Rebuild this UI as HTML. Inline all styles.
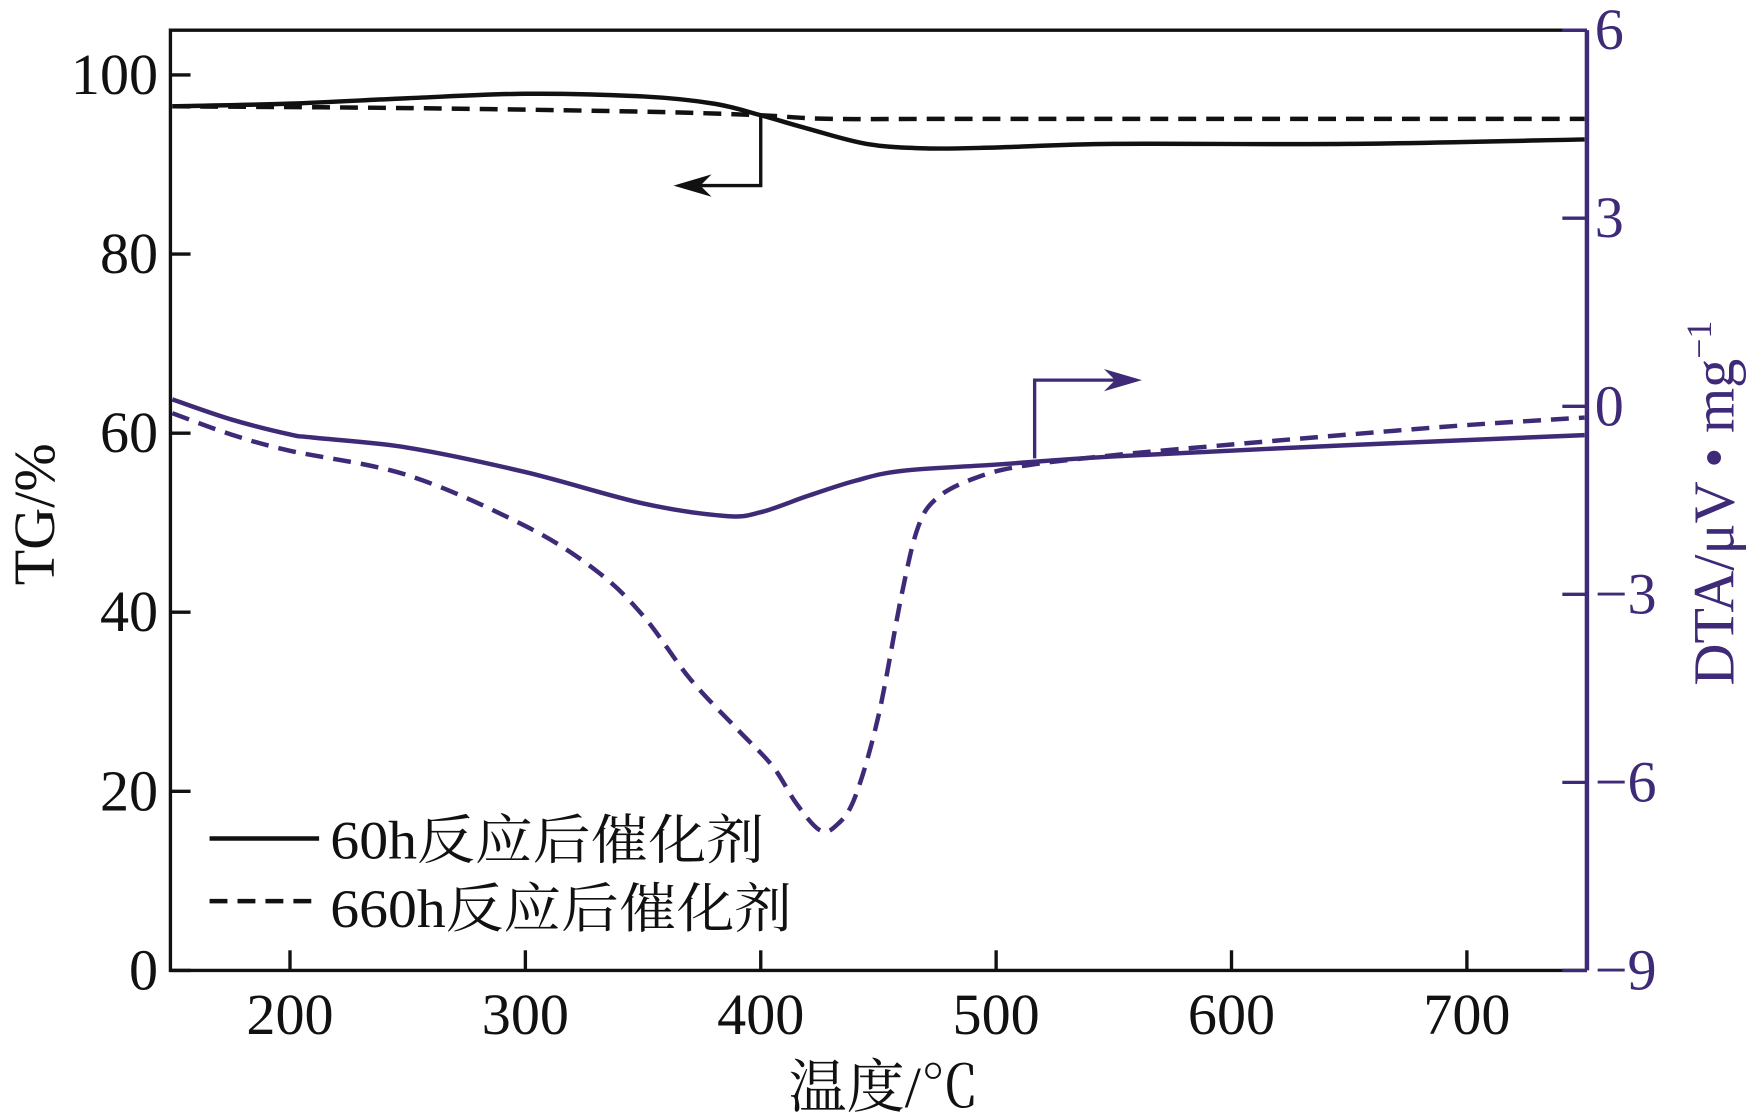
<!DOCTYPE html>
<html><head><meta charset="utf-8">
<style>
html,body{margin:0;padding:0;background:#fff;}
svg{display:block;}
text{font-family:"Liberation Serif","Noto Serif CJK SC",serif;}
</style></head>
<body>
<svg id="chart" width="1754" height="1118" viewBox="0 0 1568 1000" xmlns="http://www.w3.org/2000/svg">
<g id="axes"></g>
<g id="series"></g>
<g id="legend">
  <line x1="187" y1="750" x2="285" y2="750" stroke="#111" stroke-width="4"/>
  <text x="295" y="768" font-size="48" fill="#111" textLength="388" lengthAdjust="spacingAndGlyphs">60h反应后催化剂</text>
  <line x1="187" y1="806" x2="285" y2="806" stroke="#111" stroke-width="4" stroke-dasharray="16 9"/>
  <text x="295" y="829" font-size="48" fill="#111" textLength="413" lengthAdjust="spacingAndGlyphs">660h反应后催化剂</text>
</g>
<g>
  <polyline points="680,103 680,166 612,166" fill="none" stroke="#111" stroke-width="3"/>
  <polygon points="602,166 636,156 626,166 636,176" fill="#111"/>
  <polyline points="925,410 925,340 1010,340" fill="none" stroke="#3f2a78" stroke-width="3"/>
  <polygon points="1021,340 987,330 997,340 987,350" fill="#3f2a78"/>
</g>
</svg>
<script>
const xTicks = [200,300,400,500,600,700];
const tgTicks = [0,20,40,60,80,100];
const dtaTicks = [-9,-6,-3,0,3,6];
const dtaTickLabels = ["\u22129","\u22126","\u22123","0","3","6"];
const tgTemp60 = [150,200,250,300,350,380,400,420,445,470,500,550,650,750];
const tgVal60 = [96.5,96.8,97.4,97.9,97.6,96.8,95.5,94,92.3,91.8,91.9,92.3,92.3,92.8];
const tgTemp660 = [150,250,350,400,430,500,750];
const tgVal660 = [96.5,96.3,95.9,95.5,95.1,95.1,95.1];
const dtaTemp60 = [150,175,200,210,250,300,350,385,400,420,440,460,500,550,650,750];
const dtaVal60 = [0.11,-0.21,-0.45,-0.5,-0.66,-1.05,-1.55,-1.75,-1.69,-1.43,-1.19,-1.03,-0.93,-0.8,-0.62,-0.46];
const dtaTemp660 = [150,175,200,250,300,330,350,370,390,405,415,425,432,440,450,460,467,475,490,510,550,600,650,700,750];
const dtaVal660 = [-0.11,-0.45,-0.71,-1.1,-1.91,-2.62,-3.34,-4.35,-5.15,-5.74,-6.33,-6.76,-6.69,-6.24,-4.94,-2.98,-1.91,-1.46,-1.16,-0.96,-0.78,-0.61,-0.45,-0.3,-0.18];

const L=152,R=1419,T=27,B=868;
const X0=149.2,X1=751;
const xs = v => L + (v-X0)/(X1-X0)*(R-L);
const yTG = v => B - (v/105)*(B-T);
const yDTA = v => B - (v+9)/15*(B-T);
const NS="http://www.w3.org/2000/svg";
const PURPLE="#3f2a78";
function mk(tag, attrs, parent){const e=document.createElementNS(NS,tag);for(const k in attrs)e.setAttribute(k,attrs[k]);parent.appendChild(e);return e;}
const axes=document.getElementById('axes'), series=document.getElementById('series');

let e;
e=mk('polyline',{points:`${R},${T} ${L},${T} ${L},${B} ${R},${B}`,fill:'none',stroke:'#111','stroke-width':3},axes);


e=mk('line',{x1:R,y1:T,x2:R,y2:B,stroke:PURPLE,'stroke-width':4},axes);



xTicks.forEach(v=>{
  const x=xs(v);
  e=mk('line',{x1:x,y1:B,x2:x,y2:B-18,stroke:'#111','stroke-width':3},axes);
  
  
  e=mk('text',{x:x,y:925,'font-size':52,'text-anchor':'middle',fill:'#111'},axes);
  e.textContent=v;
  
  
});
tgTicks.forEach(v=>{
  const y=yTG(v);
  e=mk('line',{x1:L,y1:y,x2:L+18,y2:y,stroke:'#111','stroke-width':3},axes);
  
  
  e=mk('text',{x:141,y:y+17,'font-size':52,'text-anchor':'end',fill:'#111'},axes);
  e.textContent=v;
  
  
});
dtaTicks.forEach((v,i)=>{
  const y=yDTA(v);
  e=mk('line',{x1:R,y1:y,x2:R-22,y2:y,stroke:PURPLE,'stroke-width':3},axes);
  
  
  e=mk('text',{x:1426,y:y+17,'font-size':52,fill:PURPLE},axes);
  e.textContent=dtaTickLabels[i];
  
  
});
e=mk('text',{x:790,y:990,'font-size':52,'text-anchor':'middle',fill:'#111'},axes);
e.textContent='温度/℃';


e=mk('text',{x:0,y:0,'font-size':52,'text-anchor':'middle',fill:'#111',transform:'translate(48 460) rotate(-90)'},axes);
e.textContent='TG/%';


e=mk('text',{x:0,y:0,'font-size':52,'text-anchor':'middle',fill:PURPLE,transform:'translate(1550 450) rotate(-90)'},axes);
e.innerHTML='DTA/μV • mg<tspan font-size="32" dy="-20">−1</tspan>';



function smoothPath(pts){
  let d=`M${pts[0][0]},${pts[0][1]}`;
  for(let i=0;i<pts.length-1;i++){
    const p0=pts[i-1]||pts[i],p1=pts[i],p2=pts[i+1],p3=pts[i+2]||p2;
    const c1=[p1[0]+(p2[0]-p0[0])/6,p1[1]+(p2[1]-p0[1])/6];
    const c2=[p2[0]-(p3[0]-p1[0])/6,p2[1]-(p3[1]-p1[1])/6];
    d+=` C${c1[0]},${c1[1]} ${c2[0]},${c2[1]} ${p2[0]},${p2[1]}`;
  }
  return d;
}
function draw(tx,vals,yf,color,dash,name){
  const pts=tx.map((t,i)=>[xs(t),yf(vals[i])]);
  const p=mk('path',{d:smoothPath(pts),fill:'none',stroke:color,'stroke-width':4},series);
  if(dash)p.setAttribute('stroke-dasharray','16 9');
  
  
}
draw(tgTemp60,tgVal60,yTG,'#111',false,'tg-60h-line');
draw(tgTemp660,tgVal660,yTG,'#111',true,'tg-660h-line');
draw(dtaTemp60,dtaVal60,yDTA,PURPLE,false,'dta-60h-line');
draw(dtaTemp660,dtaVal660,yDTA,PURPLE,true,'dta-660h-line');
</script>
</body></html>
